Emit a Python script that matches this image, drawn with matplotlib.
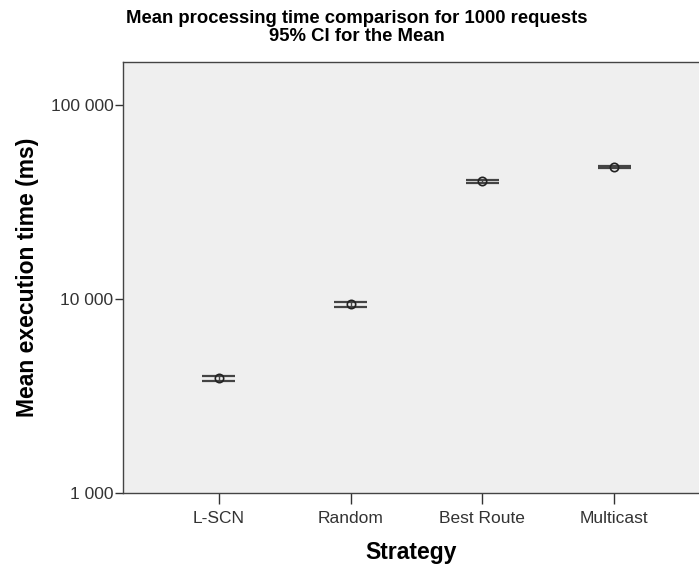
import matplotlib
matplotlib.use("Agg")
import matplotlib.pyplot as plt
from matplotlib.ticker import FixedLocator, FuncFormatter, NullLocator
import numpy as np

# values (ms)
strategies = ["L-SCN", "Random", "Best Route", "Multicast"]
mean_ms = [3910, 9390, 40250, 47800]
ci_low = [3790, 9100, 39650, 47250]
ci_high = [3990, 9650, 41050, 48350]

BG = "#efefef"
TXT = "#333333"

plt.rcParams["font.family"] = ["Liberation Sans", "DejaVu Sans"]

fig = plt.figure(figsize=(6.99, 5.64), dpi=100)
ax = fig.add_axes([0.176, 0.126, 0.824, 0.764])
ax.set_facecolor(BG)

x = np.arange(len(strategies))
half = 0.125
ax.vlines(x, ci_low, ci_high, color="#444444", linewidth=1)
ax.hlines(ci_low, x - half, x + half, color="#444444", linewidth=1.6)
ax.hlines(ci_high, x - half, x + half, color="#444444", linewidth=1.6)
ax.plot(x, mean_ms, linestyle="none", marker="o", markersize=6,
        markerfacecolor="none", markeredgecolor="#222222", markeredgewidth=1.2)

ax.set_yscale("log")
ax.set_ylim(1000, 166000)
ax.set_xlim(-0.727, 3.644)
ax.yaxis.set_major_locator(FixedLocator([1000, 10000, 100000]))
ax.yaxis.set_minor_locator(NullLocator())
ax.yaxis.set_major_formatter(FuncFormatter(lambda v, p: f"{int(v):,}".replace(",", " ")))
ax.set_xticks(x)
ax.set_xticklabels(strategies)

ax.tick_params(axis="y", length=6, width=1, colors="#333333", labelsize=12.5, labelcolor=TXT, pad=1)
ax.tick_params(axis="x", length=8, width=1, colors="#333333", labelsize=12.5, labelcolor=TXT, pad=5)
for s in ax.spines.values():
    s.set_color("#444444")
    s.set_linewidth(1)
ax.spines["right"].set_visible(False)

ax.set_ylabel("Mean execution time (ms)", fontsize=16.5, fontweight="bold", labelpad=8)
ax.set_xlabel("Strategy", fontsize=16.5, fontweight="bold", labelpad=11)
fig.text(357 / 699, 1 - 10 / 564,
         "Mean processing time comparison for 1000 requests\n95% CI for the Mean",
         ha="center", va="top", fontsize=13.3, fontweight="bold", linespacing=1.1)

fig.savefig("out.png", dpi=100)
plt.close(fig)
